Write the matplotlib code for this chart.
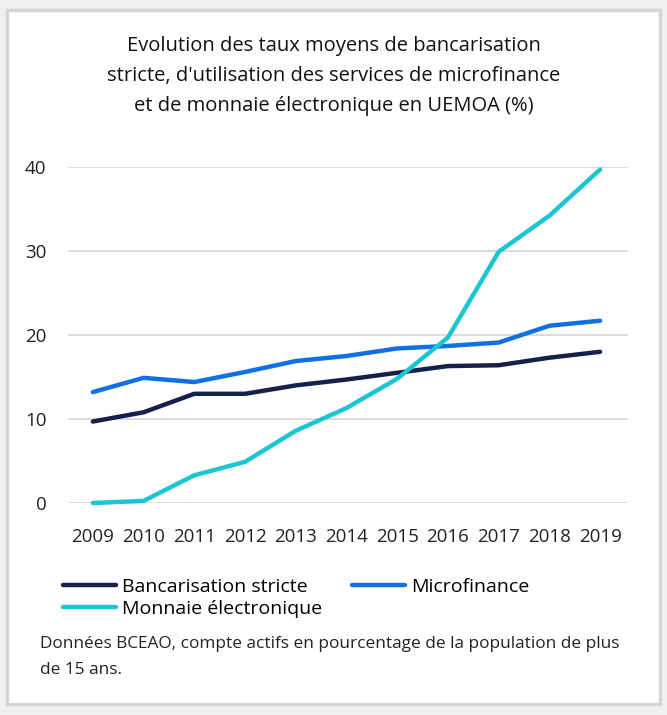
import matplotlib
matplotlib.use("Agg")
import matplotlib.pyplot as plt
from matplotlib.patches import Rectangle

years = ["2009", "2010", "2011", "2012", "2013", "2014", "2015", "2016", "2017", "2018", "2019"]
bancarisation = [9.7, 10.8, 13.0, 13.0, 14.0, 14.7, 15.5, 16.3, 16.4, 17.3, 18.0]
microfinance = [13.2, 14.9, 14.4, 15.6, 16.9, 17.5, 18.4, 18.7, 19.1, 21.1, 21.7]
monnaie = [0.0, 0.25, 3.3, 4.9, 8.6, 11.3, 14.8, 19.7, 29.9, 34.2, 39.7]
yticks = [0, 10, 20, 30, 40]

plt.rcParams['font.family'] = ['Open Sans', 'DejaVu Sans']

W, H = 667, 715
fig = plt.figure(figsize=(W / 100, H / 100), dpi=100)
fig.patch.set_facecolor('#f0f0f0')
fig.patches.append(Rectangle((7 / W, 1 - 704 / H), 653 / W, 694 / H, transform=fig.transFigure,
                             facecolor='white', edgecolor='#d6d6d6', linewidth=2.5, zorder=-5))

fig.text(0.5, 1 - 76 / H,
         "Evolution des taux moyens de bancarisation\nstricte, d'utilisation des services de microfinance\net de monnaie électronique en UEMOA (%)",
         ha='center', va='center', fontsize=14.5, color='#111111', linespacing=1.7)

ax = fig.add_axes([68 / W, 1 - 503 / H, (628 - 68) / W, (503 - 167) / H])
ax.set_zorder(2)
ax.set_facecolor('none')
x = list(range(len(years)))
l1, = ax.plot(x, bancarisation, color='#14214d', lw=3.2, solid_capstyle='round', clip_on=False, zorder=3)
l2, = ax.plot(x, microfinance, color='#1170e4', lw=3.2, solid_capstyle='round', clip_on=False, zorder=3)
l3, = ax.plot(x, monnaie, color='#1cc5d2', lw=3.2, solid_capstyle='round', clip_on=False, zorder=4)

ax.set_xlim(-0.49, 10.55)
ax.set_ylim(0, 40)
ax.set_yticks(yticks)
ax.set_xticks(x)
ax.set_xticklabels(years)
ax.grid(axis='y', color='#d9d9d9', lw=1.3)
ax.set_axisbelow(True)
for s in ax.spines.values():
    s.set_visible(False)
ax.tick_params(axis='both', length=0, labelsize=13.5, colors='#222222')
ax.tick_params(axis='y', pad=15.5)
ax.tick_params(axis='x', pad=18)

fig.legend([l1, l3, l2], ["Bancarisation stricte", "Monnaie électronique", "Microfinance"],
           ncol=2, loc='upper left', bbox_to_anchor=(63 / W, 1 - 578 / H), frameon=False,
           fontsize=14, handlelength=2.75, handletextpad=0.3, columnspacing=1.5,
           labelspacing=0.2, borderaxespad=0, borderpad=0)

fig.text(40 / W, 1 - 657 / H, "Données BCEAO, compte actifs en pourcentage de la population de plus\nde 15 ans.",
         ha='left', va='center', fontsize=12.4, color='#222222', linespacing=1.75)

fig.savefig("out.png", dpi=100, facecolor=fig.get_facecolor())
